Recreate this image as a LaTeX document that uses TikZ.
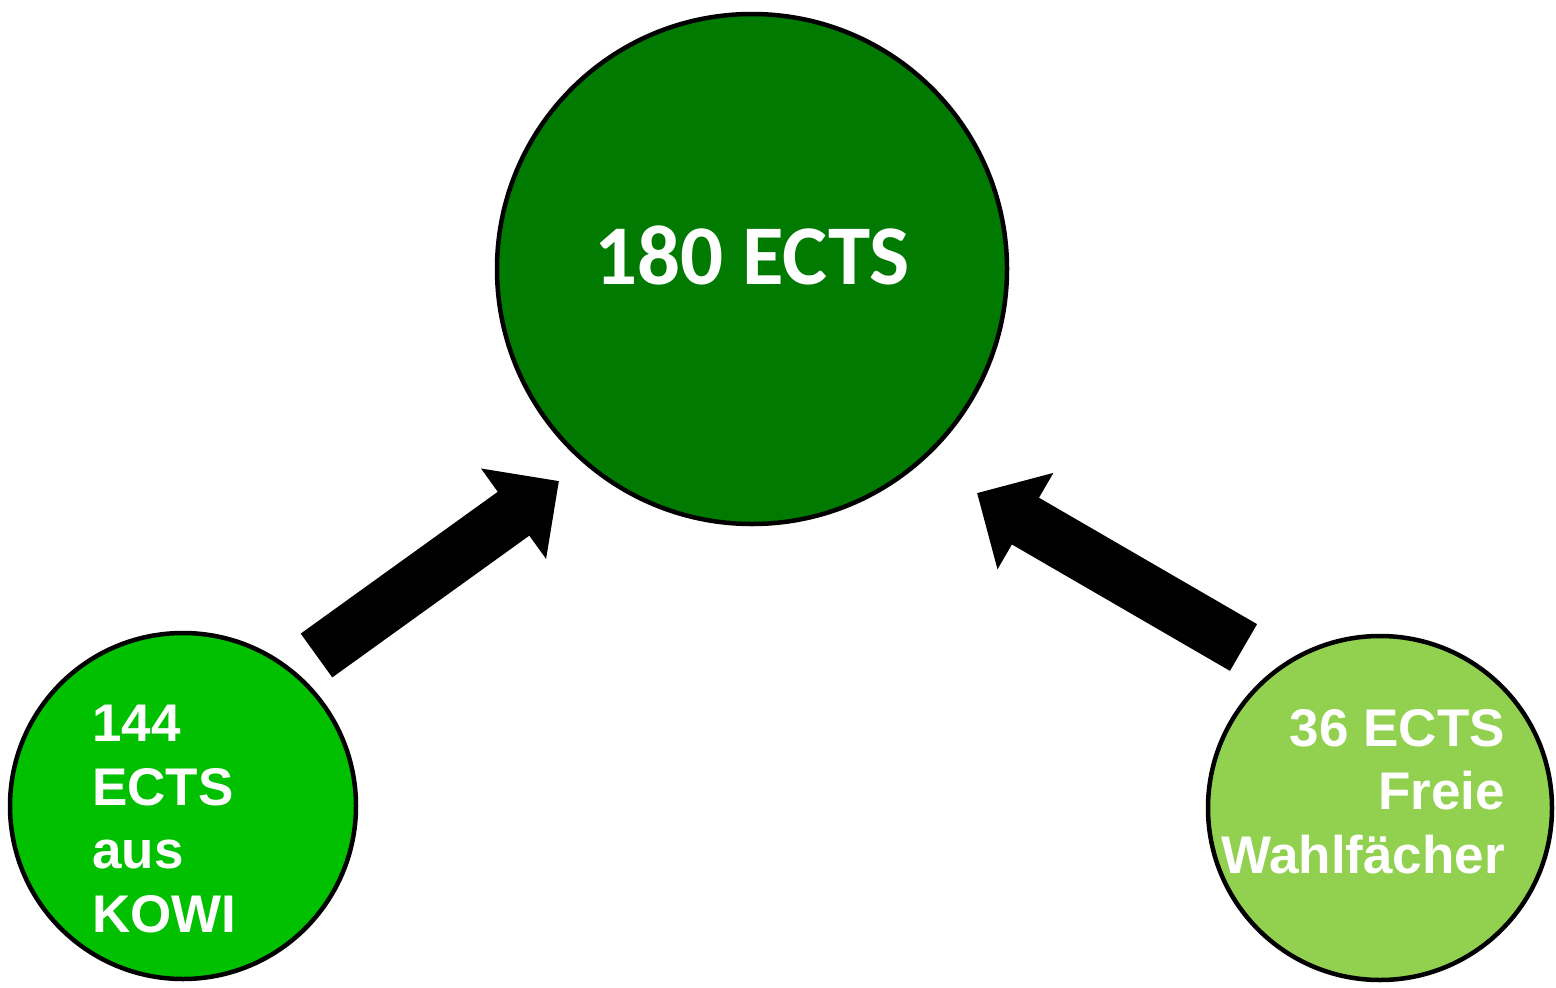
\documentclass[tikz,border=0pt]{standalone}
\usepackage{fontspec}
\setmainfont{Liberation Sans}
\newfontfamily\calfont{Carlito}
\usetikzlibrary{arrows.meta}
\definecolor{darkg}{RGB}{0,122,0}
\definecolor{midg}{RGB}{0,192,0}
\definecolor{lightg}{RGB}{146,208,80}
\tikzset{
  ball/.style={circle,draw=black,line width=4.5pt,inner sep=0pt,minimum size=#1},
  lbl/.style={text=white,inner sep=0pt,font=\bfseries\fontsize{53}{63.5}\selectfont},
  blockarrow/.style={draw=black,line width=54pt,line cap=butt,
    -{Triangle[length=56pt,width=108pt]}}
}
\begin{document}
\begin{tikzpicture}[x=1pt,y=-1pt]
\useasboundingbox (0,0) rectangle (1556,988);
\node[ball=510pt,fill=darkg] (total) at (752,269) {};
\node[ball=346pt,fill=midg] (kowi) at (183,806) {};
\node[ball=344pt,fill=lightg] (frei) at (1380,808) {};
\node[text=white,inner sep=0pt,anchor=base,font=\calfont\bfseries\fontsize{85}{90}\selectfont] (t180) at (752,284) {180 ECTS};
\node[lbl,align=left,anchor=base west] (t144) at (92,932) {144\\ECTS\\aus\\KOWI};
\node[lbl,align=right,anchor=base east] (t36) at (1505,873) {36 ECTS\\Freie\\Wahlfächer};
\coordinate (a1s) at (316.5,655.5);
\coordinate (a1e) at (559,481);
\coordinate (a2s) at (1243.5,647.5);
\coordinate (a2e) at (977,493);
\draw[blockarrow] (a1s) -- (a1e);
\draw[blockarrow] (a2s) -- (a2e);
\end{tikzpicture}
\end{document}
